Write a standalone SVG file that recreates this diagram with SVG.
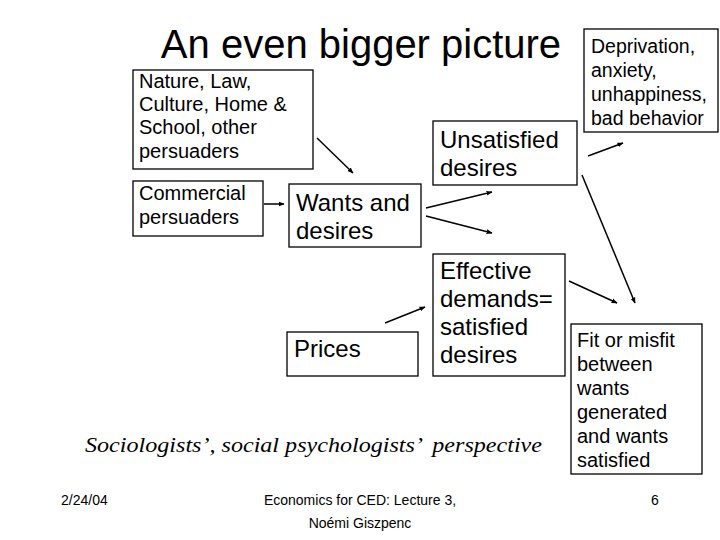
<svg xmlns="http://www.w3.org/2000/svg" width="720" height="540" viewBox="0 0 720 540">
<style>
.box{fill:#fff;stroke:#000;stroke-width:1.3}
.t{font-family:"Liberation Sans",Arial,sans-serif;fill:#000}
.s20{font-size:20px}
.s24{font-size:24px}
.c{stroke:#000;stroke-width:1.5;fill:none;marker-end:url(#ah)}
</style>
<defs>
<marker id="ah" viewBox="0 0 10 10" refX="9" refY="5" markerWidth="6" markerHeight="6" orient="auto" markerUnits="userSpaceOnUse">
<path d="M0,1 L10,5 L0,9 z" fill="#000"/>
</marker>
</defs>
<rect width="720" height="540" fill="#fff"/>
<text class="t" x="361" y="58" font-size="40" text-anchor="middle">An even bigger picture</text>

<g id="nature">
<rect class="box" x="133" y="70" width="180" height="99"/>
<text class="t s20"><tspan x="139" y="88">Nature, Law,</tspan><tspan x="139" y="111">Culture, Home &amp;</tspan><tspan x="139" y="134">School, other</tspan><tspan x="139" y="158">persuaders</tspan></text>
</g>
<g id="commercial">
<rect class="box" x="133" y="181" width="130" height="55"/>
<text class="t s20"><tspan x="139" y="200">Commercial</tspan><tspan x="139" y="224">persuaders</tspan></text>
</g>
<g id="wants">
<rect class="box" x="289" y="184" width="132" height="63"/>
<text class="t s24"><tspan x="296" y="211">Wants and</tspan><tspan x="296" y="239">desires</tspan></text>
</g>
<g id="unsatisfied">
<rect class="box" x="433" y="121" width="144" height="64"/>
<text class="t s24"><tspan x="440" y="148">Unsatisfied</tspan><tspan x="440" y="176">desires</tspan></text>
</g>
<g id="deprivation">
<rect class="box" x="584" y="29" width="134" height="103"/>
<text class="t" font-size="19.5"><tspan x="591" y="53">Deprivation,</tspan><tspan x="591" y="77">anxiety,</tspan><tspan x="591" y="101">unhappiness,</tspan><tspan x="591" y="125">bad behavior</tspan></text>
</g>
<g id="effective">
<rect class="box" x="433" y="254" width="132" height="122"/>
<text class="t s24"><tspan x="440" y="279">Effective</tspan><tspan x="440" y="307">demands=</tspan><tspan x="440" y="335">satisfied</tspan><tspan x="440" y="363">desires</tspan></text>
</g>
<g id="prices">
<rect class="box" x="287" y="332" width="131" height="44"/>
<text class="t s24" x="294" y="357">Prices</text>
</g>
<g id="fit">
<rect class="box" x="571" y="324" width="131" height="150"/>
<text class="t s20"><tspan x="577" y="347">Fit or misfit</tspan><tspan x="577" y="371">between</tspan><tspan x="577" y="395">wants</tspan><tspan x="577" y="419">generated</tspan><tspan x="577" y="443">and wants</tspan><tspan x="577" y="467">satisfied</tspan></text>
</g>

<g id="connectors">
<line class="c" x1="317" y1="138" x2="353" y2="173"/>
<line class="c" x1="264" y1="204" x2="284" y2="204"/>
<line class="c" x1="426" y1="208" x2="492" y2="192"/>
<line class="c" x1="426" y1="216" x2="492" y2="233"/>
<line class="c" x1="588" y1="156" x2="623" y2="143"/>
<line class="c" x1="582" y1="175" x2="635" y2="303"/>
<line class="c" x1="385" y1="323" x2="425" y2="307"/>
<line class="c" x1="569" y1="281" x2="617" y2="303"/>
</g>

<text x="85" y="452" font-family="'Liberation Serif','Times New Roman',serif" font-style="italic" font-size="22" textLength="457" lengthAdjust="spacingAndGlyphs" xml:space="preserve">Sociologists’, social psychologists’  perspective</text>

<g class="t" font-size="14">
<text x="61" y="505">2/24/04</text>
<text x="360" y="505" text-anchor="middle">Economics for CED: Lecture 3,</text>
<text x="360" y="528" text-anchor="middle">Noémi Giszpenc</text>
<text x="651" y="505">6</text>
</g>
</svg>
